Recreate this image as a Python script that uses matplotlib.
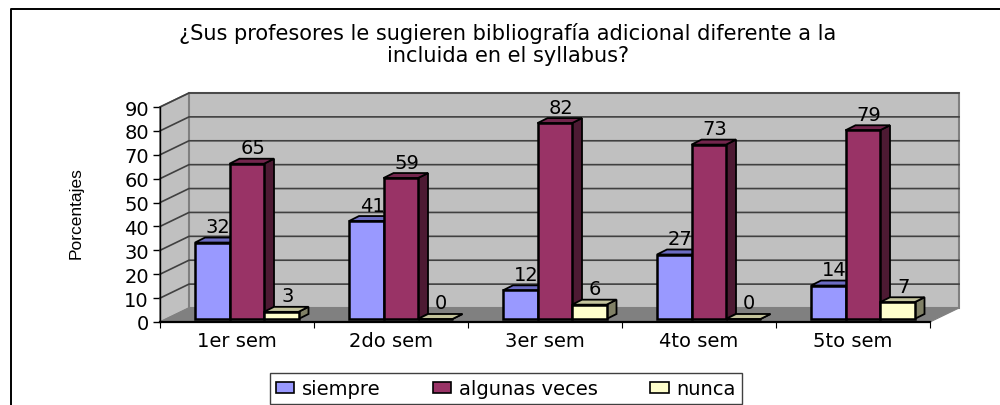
import matplotlib
matplotlib.use('Agg')
import matplotlib.pyplot as plt
from matplotlib.patches import Polygon, Rectangle

# --- datos ---
semestres = ['1er sem', '2do sem', '3er sem', '4to sem', '5to sem']
siempre = [32, 41, 12, 27, 14]
algunas_veces = [65, 59, 82, 73, 79]
nunca = [3, 0, 6, 0, 7]
y_ticks = [0, 10, 20, 30, 40, 50, 60, 70, 80, 90]

titulo = '¿Sus profesores le sugieren bibliografía adicional diferente a la\nincluida en el syllabus?'
y_label = 'Porcentajes'

# (frente, arriba, lado)
series = [
    ('siempre', siempre, '#9999FF', '#6C6CC4', '#4C4C80'),
    ('algunas veces', algunas_veces, '#993366', '#73264D', '#4D1A33'),
    ('nunca', nunca, '#FFFFCC', '#C4C49C', '#808066'),
]

W, H = 1000, 406
X0, X1 = 160, 930      # eje frontal en pixeles
Y0, Y90 = 323, 108
FS = 14

plt.rcParams['font.family'] = ['DejaVu Sans']
fig = plt.figure(figsize=(W / 100, H / 100), dpi=100)
ax = fig.add_axes([X0 / W, 1 - Y0 / H, (X1 - X0) / W, (Y0 - Y90) / H])
ax.set_xlim(0, len(semestres))
ax.set_ylim(0, 90)

# pixeles -> unidades de datos
px = len(semestres) / (X1 - X0)
py = 90 / (Y0 - Y90)
dx_wall, dy_wall = 29 * px, 14 * py
dx_bar, dy_bar = 10 * px, 5 * py
bar_w = 34.5 * px
bar_start = 35 * px
bar_base = 3 * py
n = len(semestres)

# paredes y piso
ax.add_patch(Polygon([(0, 0), (dx_wall, dy_wall), (dx_wall, 90 + dy_wall), (0, 90)],
                     fc='#C0C0C0', ec='#808080', lw=1.2, clip_on=False, zorder=1))
ax.add_patch(Polygon([(dx_wall, dy_wall), (n + dx_wall, dy_wall), (n + dx_wall, 90 + dy_wall), (dx_wall, 90 + dy_wall)],
                     fc='#C0C0C0', ec='#808080', lw=1.5, clip_on=False, zorder=1))
ax.add_patch(Polygon([(0, 0), (n, 0), (n + dx_wall, dy_wall), (dx_wall, dy_wall)],
                     fc='#808080', ec='#808080', lw=0.8, clip_on=False, zorder=1))

# lineas de la reticula
for v in y_ticks[1:]:
    ax.plot([0, dx_wall, n + dx_wall], [v, v + dy_wall, v + dy_wall], color='#404040',
            lw=1.2, clip_on=False, zorder=2, solid_joinstyle='miter')

# barras 3d
for s, (name, vals, front, top, side) in enumerate(series):
    for i, v in enumerate(vals):
        x = i + bar_start + s * bar_w
        y = bar_base
        z = 3 + s
        ax.add_patch(Polygon([(x + bar_w, y), (x + bar_w + dx_bar, y + dy_bar),
                              (x + bar_w + dx_bar, y + v + dy_bar), (x + bar_w, y + v)],
                             fc=side, ec='black', lw=1.3, zorder=z, clip_on=False))
        ax.add_patch(Polygon([(x, y + v), (x + dx_bar, y + v + dy_bar),
                              (x + bar_w + dx_bar, y + v + dy_bar), (x + bar_w, y + v)],
                             fc=top, ec='black', lw=1.3, zorder=z, clip_on=False))
        ax.add_patch(Rectangle((x, y), bar_w, v, fc=front, ec='black', lw=1.8, zorder=z, clip_on=False))
        ax.text(x + bar_w / 2 + 6 * px, y + v + dy_bar + 11 * py, str(v), ha='center', va='center',
                fontsize=FS, color='black', zorder=10, clip_on=False)

# ejes
for sp in ['top', 'right']:
    ax.spines[sp].set_visible(False)
ax.spines['bottom'].set_zorder(8)
ax.spines['left'].set_zorder(8)
ax.spines['bottom'].set_linewidth(1.6)
ax.spines['left'].set_linewidth(1.0)
ax.patch.set_visible(False)
ax.set_yticks(y_ticks)
ax.tick_params(axis='y', length=5, width=1.0, labelsize=FS, pad=3)
ax.set_xticks(range(n + 1))
ax.set_xticklabels([])
ax.tick_params(axis='x', length=4, width=0.8, direction='out', pad=4)
for i, name in enumerate(semestres):
    ax.text(i + 0.5, -19 * py, name, ha='center', va='center', fontsize=FS, clip_on=False)

# textos en coordenadas de figura
fig.text(508 / W, 1 - 44.5 / H, titulo, ha='center', va='center', fontsize=15, linespacing=1.15)
fig.text(76 / W, 1 - 213 / H, y_label, rotation=90, ha='center', va='center', fontsize=12.5,
         family='Liberation Sans')

# marco exterior
fig.add_artist(plt.Line2D([11 / W, 11 / W, 1], [0, 1 - 9.5 / H, 1 - 9.5 / H], color='black', lw=1.4))

# leyenda
handles = [Rectangle((0, 0), 1, 1, fc=s[2], ec='black', lw=1.2) for s in series]
fig.legend(handles, [s[0] for s in series], loc='center', bbox_to_anchor=(506 / W, 1 - 389.5 / H), ncol=3,
           fontsize=FS, fancybox=False, edgecolor='#404040', framealpha=1, handlelength=0.93,
           handleheight=0.5, handletextpad=0.4, columnspacing=2.7, borderpad=0.3, borderaxespad=0)

fig.savefig('out.png', dpi=100)
